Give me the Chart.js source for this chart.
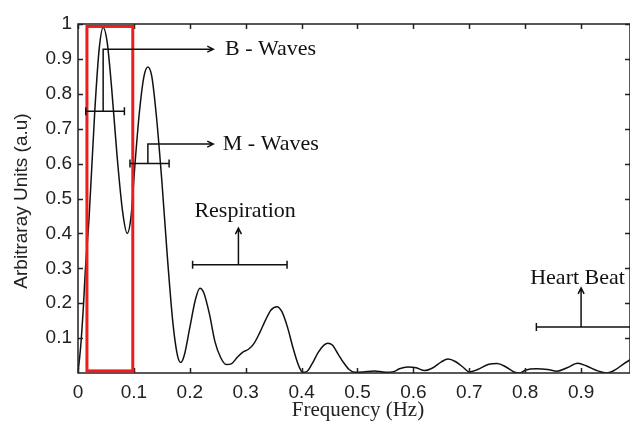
<!DOCTYPE html>
<html>
<head>
<meta charset="utf-8">
<script src="https://cdn.jsdelivr.net/npm/chart.js@4.4.1/dist/chart.umd.min.js"></script>
<style>
  body { margin: 0; background: #fff; }
  canvas { display: block; }
</style>
</head>
<body>
<canvas id="psdChart" width="630" height="422"></canvas>
<script>
// spectrum
const freqHz = [0, 0.005, 0.01, 0.013, 0.02, 0.03, 0.038, 0.045, 0.052, 0.06, 0.07, 0.08, 0.088, 0.095,
    0.102, 0.11, 0.118, 0.125, 0.132, 0.14, 0.15, 0.16, 0.17, 0.178, 0.184, 0.19, 0.2, 0.21, 0.218,
    0.225, 0.235, 0.245, 0.255, 0.265, 0.275, 0.285, 0.295, 0.305, 0.315, 0.325, 0.335, 0.345, 0.356,
    0.365, 0.375, 0.385, 0.395, 0.402, 0.41, 0.42, 0.43, 0.44, 0.447, 0.455, 0.465, 0.475, 0.485,
    0.495, 0.51, 0.53, 0.55, 0.565, 0.575, 0.59, 0.605, 0.62, 0.635, 0.65, 0.662, 0.675, 0.69, 0.7,
    0.715, 0.735, 0.75, 0.765, 0.78, 0.79, 0.8, 0.82, 0.84, 0.857, 0.875, 0.894, 0.91, 0.93, 0.946,
    0.96, 0.975, 0.99];
const amplitude = [0, 0.08, 0.2, 0.29, 0.45, 0.75, 0.93, 0.99, 0.95, 0.82, 0.62, 0.46, 0.40, 0.45,
    0.60, 0.75, 0.85, 0.877, 0.85, 0.74, 0.55, 0.33, 0.14, 0.05, 0.03, 0.05, 0.13, 0.21, 0.243,
    0.23, 0.17, 0.09, 0.045, 0.024, 0.027, 0.045, 0.06, 0.068, 0.085, 0.115, 0.15, 0.18, 0.19,
    0.175, 0.13, 0.07, 0.02, 0.002, 0.005, 0.03, 0.06, 0.08, 0.085, 0.08, 0.055, 0.03, 0.01,
    0.002, 0.003, 0.006, 0.002, 0.004, 0.012, 0.017, 0.015, 0.007, 0.015, 0.032, 0.04, 0.033, 0.015, 0.003,
    0.01, 0.025, 0.027, 0.018, 0.003, 0, 0.008, 0.012, 0.01, 0.005, 0.015, 0.028, 0.02, 0.006, 0,
    0.008, 0.025, 0.04];

const xTicks = [0, 0.1, 0.2, 0.3, 0.4, 0.5, 0.6, 0.7, 0.8, 0.9];
const yTicks = [0.1, 0.2, 0.3, 0.4, 0.5, 0.6, 0.7, 0.8, 0.9, 1];

// highlight box [x0, x1, y0, y1]
const bWaveBox = [0.016, 0.098, 0.006, 0.993];

// labelled ranges: bar from x0..x1 at y, stem at sx up to sy
const bands = [
    { label: 'B - Waves', x0: 0.014, x1: 0.083, y: 0.75, sx: 0.045, sy: 0.928, kind: 'right', tx: 0.263 },
    { label: 'M - Waves', x0: 0.093, x1: 0.163, y: 0.60, sx: 0.125, sy: 0.656, kind: 'right', tx: 0.259 },
    { label: 'Respiration', x0: 0.205, x1: 0.374, y: 0.31, sx: 0.287, sy: 0.415, kind: 'up', tx: 0.299, ty: 0.464 },
    { label: 'Heart Beat', x0: 0.82, x1: 1.0, y: 0.132, sx: 0.90, sy: 0.244, kind: 'up', tx: 0.809, ty: 0.272 }
];

const serif = '"Liberation Serif", "Times New Roman", serif';
const sans = '"Liberation Sans", Arial, sans-serif';

const framePlugin = {
    id: 'frame',
    afterDraw(chart) {
        const { ctx, chartArea: { left, right, top, bottom }, scales: { x, y } } = chart;
        ctx.save();
        ctx.strokeStyle = '#222';
        ctx.lineWidth = 1.5;
        ctx.strokeRect(left, top, right - left, bottom - top);

        // inward tick marks on all four sides
        ctx.beginPath();
        xTicks.forEach(v => {
            const px = Math.round(x.getPixelForValue(v)) + 0.5;
            ctx.moveTo(px, bottom); ctx.lineTo(px, bottom - 5);
            ctx.moveTo(px, top); ctx.lineTo(px, top + 5);
        });
        yTicks.forEach(v => {
            const py = Math.round(y.getPixelForValue(v)) + 0.5;
            ctx.moveTo(left, py); ctx.lineTo(left + 5, py);
            ctx.moveTo(right, py); ctx.lineTo(right - 5, py);
        });
        ctx.stroke();

        // red highlight box
        ctx.strokeStyle = '#ee1c1c';
        ctx.lineWidth = 3;
        const bx0 = x.getPixelForValue(bWaveBox[0]), bx1 = x.getPixelForValue(bWaveBox[1]);
        const by0 = y.getPixelForValue(bWaveBox[2]), by1 = y.getPixelForValue(bWaveBox[3]);
        ctx.strokeRect(bx0, by1, bx1 - bx0, by0 - by1);

        // annotations
        ctx.strokeStyle = '#111';
        ctx.fillStyle = '#111';
        ctx.lineWidth = 1.5;
        ctx.font = '22px ' + serif;
        bands.forEach(b => {
            const x0 = x.getPixelForValue(b.x0), x1 = x.getPixelForValue(b.x1);
            const py = y.getPixelForValue(b.y);
            const sx = x.getPixelForValue(b.sx), sy = y.getPixelForValue(b.sy);
            ctx.beginPath();
            ctx.moveTo(x0, py); ctx.lineTo(x1, py);
            ctx.moveTo(x0, py - 4); ctx.lineTo(x0, py + 4);
            ctx.moveTo(x1, py - 4); ctx.lineTo(x1, py + 4);
            ctx.moveTo(sx, py); ctx.lineTo(sx, sy);
            if (b.kind === 'right') {
                const ax = x.getPixelForValue(0.242);
                ctx.lineTo(ax, sy);
                ctx.moveTo(ax - 6, sy - 3); ctx.lineTo(ax, sy); ctx.lineTo(ax - 6, sy + 3);
            } else {
                ctx.moveTo(sx - 3, sy + 6); ctx.lineTo(sx, sy); ctx.lineTo(sx + 3, sy + 6);
            }
            ctx.stroke();

            ctx.textBaseline = 'middle';
            if (b.kind === 'right') {
                ctx.textAlign = 'left';
                ctx.fillText(b.label, x.getPixelForValue(b.tx), sy);
            } else {
                ctx.textAlign = b.label === 'Respiration' ? 'center' : 'left';
                ctx.fillText(b.label, x.getPixelForValue(b.tx), y.getPixelForValue(b.ty));
            }
        });

        // axis titles
        ctx.fillStyle = '#222';
        ctx.textAlign = 'center';
        ctx.textBaseline = 'middle';
        ctx.font = '21px ' + serif;
        ctx.fillText('Frequency (Hz)', 358, 410);
        ctx.font = '19px ' + sans;
        ctx.translate(22, 201);
        ctx.rotate(-Math.PI / 2);
        ctx.fillText('Arbitraray Units (a.u)', 0, 0);
        ctx.restore();
    }
};

const ctx = document.getElementById('psdChart').getContext('2d');
new Chart(ctx, {
    type: 'line',
    data: {
        datasets: [{
            data: freqHz.map((f, i) => ({ x: f, y: amplitude[i] })),
            borderColor: '#111',
            borderWidth: 1.5,
            pointRadius: 0,
            cubicInterpolationMode: 'monotone',
            fill: false
        }]
    },
    options: {
        responsive: false,
        animation: false,
        layout: { padding: { top: 24, left: 0, right: 0, bottom: 0 } },
        plugins: { legend: { display: false }, tooltip: { enabled: false } },
        scales: {
            x: {
                type: 'linear',
                min: 0,
                max: 0.9875,
                grid: { display: false, drawTicks: false },
                border: { display: false },
                afterBuildTicks: s => { s.ticks = xTicks.map(v => ({ value: v })); },
                afterFit: s => { s.height = 49; },
                ticks: {
                    padding: 8,
                    maxRotation: 0,
                    autoSkip: false,
                    color: '#222',
                    font: { family: sans, size: 19 },
                    callback: v => String(v)
                }
            },
            y: {
                min: 0,
                max: 1,
                grid: { display: false, drawTicks: false },
                border: { display: false },
                afterBuildTicks: s => { s.ticks = yTicks.map(v => ({ value: v })); },
                afterFit: s => { s.width = 78; },
                ticks: {
                    padding: 6,
                    color: '#222',
                    font: { family: sans, size: 19 },
                    callback: v => String(v)
                }
            }
        }
    },
    plugins: [framePlugin]
});
</script>
</body>
</html>
